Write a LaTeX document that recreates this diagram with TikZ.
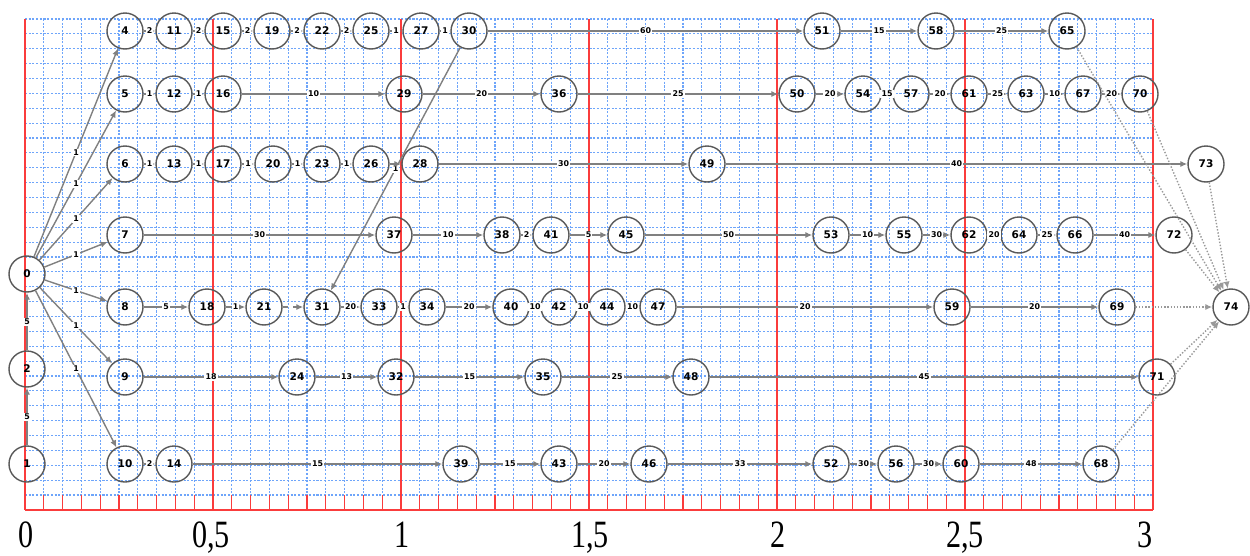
\documentclass[tikz,border=0pt]{standalone}
\usepackage{fontspec}
\setmainfont{Liberation Serif}
\newfontfamily\evfont{DejaVu Sans}
\usetikzlibrary{arrows.meta}

\definecolor{gridblue}{RGB}{110,165,250}
\definecolor{axisred}{RGB}{250,60,60}

\begin{document}
\begin{tikzpicture}[
    x=0.02cm, y=-0.02cm,
    ev/.style={circle, draw=black!65, line width=0.8pt, minimum size=0.72cm, inner sep=0pt,
               font=\evfont\bfseries\fontsize{6}{6}\selectfont},
    lbl/.style={font=\evfont\bfseries\fontsize{4.5}{5}\selectfont, text=black, inner sep=0.6pt, fill=white},
    every edge/.style={draw, black!50, line width=0.8pt, -{Latex[length=4pt,width=3.5pt]}},
    dum/.style={densely dotted, black!40},
    gridline/.style={gridblue, line width=0.6pt, dash pattern=on 1.2pt off 0.9pt},
    axisline/.style={axisred, line width=1pt},
    ticklbl/.style={anchor=base, inner sep=0pt, font=\fontsize{22}{24}\selectfont},
]
  \useasboundingbox (0,0) rectangle (1250,555);

  % grid and time axis
  \foreach \i in {0,...,60} \draw[gridline] ({25+\i*18.8},19) -- ({25+\i*18.8},495);
  \foreach \j in {0,...,32} \draw[gridline] (25,{19+\j*14.875}) -- (1153,{19+\j*14.875});
  \foreach \i in {0,...,60} \draw[axisred, line width=0.7pt] ({25+\i*18.8},495) -- ({25+\i*18.8},510);
  \draw[axisline] (25,510) -- (1153,510);
  \foreach \k in {0,...,6} \draw[axisline] ({25+\k*188},19) -- ({25+\k*188},510);
  \foreach \k/\x/\t in {0/26/0, 1/211/{0,5}, 2/402/1, 3/590/{1,5}, 4/778/2, 5/965/{2,5}, 6/1145/3}
    \node[ticklbl] (t\k) at (\x,547) {\scalebox{0.78}[1]{\t}};

  % events
  \node[ev] (n0) at (27,274) {0};
  \node[ev] (n2) at (27,369) {2};
  \node[ev] (n1) at (27,464) {1};
  \foreach \n/\x in {4/125, 11/174, 15/223, 19/272, 22/322, 25/371, 27/421, 30/469, 51/822, 58/936, 65/1067}
    \node[ev] (n\n) at (\x,31) {\n};
  \foreach \n/\x in {5/125, 12/174, 16/223, 29/404, 36/559, 50/797, 54/863, 57/911, 61/969, 63/1026, 67/1083, 70/1140}
    \node[ev] (n\n) at (\x,94) {\n};
  \foreach \n/\x in {6/125, 13/174, 17/223, 20/273, 23/322, 26/371, 28/420, 49/707, 73/1206}
    \node[ev] (n\n) at (\x,164) {\n};
  \foreach \n/\x in {7/125, 37/394, 38/502, 41/551, 45/626, 53/831, 55/904, 62/969, 64/1019, 66/1075, 72/1174}
    \node[ev] (n\n) at (\x,235) {\n};
  \foreach \n/\x in {8/125, 18/207, 21/264, 31/322, 33/379, 34/427, 40/511, 42/559, 44/607, 47/658, 59/952, 69/1117, 74/1231}
    \node[ev] (n\n) at (\x,307) {\n};
  \foreach \n/\x in {9/125, 24/297, 32/396, 35/543, 48/691, 71/1157}
    \node[ev] (n\n) at (\x,377) {\n};
  \foreach \n/\x in {10/125, 14/174, 39/461, 43/559, 46/649, 52/831, 56/896, 60/961, 68/1101}
    \node[ev] (n\n) at (\x,464) {\n};

  % works
  \path (n1) edge node[lbl] {5} (n2);
  \path (n2) edge node[lbl] {5} (n0);
  \foreach \b in {4,...,10} \path (n0) edge node[lbl] {1} (n\b);
  \foreach \a/\b/\w in {4/11/2, 11/15/2, 15/19/2, 19/22/2, 22/25/2, 25/27/1, 27/30/1, 30/51/60, 51/58/15, 58/65/25,
                        5/12/1, 12/16/1, 16/29/10, 29/36/20, 36/50/25, 50/54/20, 54/57/15, 57/61/20, 61/63/25, 63/67/10, 67/70/20,
                        6/13/1, 13/17/1, 17/20/1, 20/23/1, 23/26/1, 28/49/30, 49/73/40, 30/31/1,
                        7/37/30, 37/38/10, 38/41/2, 41/45/5, 45/53/50, 53/55/10, 55/62/30, 62/64/20, 64/66/25, 66/72/40,
                        8/18/5, 18/21/1, 31/33/20, 33/34/1, 34/40/20, 40/42/10, 42/44/10, 44/47/10, 47/59/20, 59/69/20,
                        9/24/18, 24/32/13, 32/35/15, 35/48/25, 48/71/45,
                        10/14/2, 14/39/15, 39/43/15, 43/46/20, 46/52/33, 52/56/30, 56/60/30, 60/68/48}
    \path (n\a) edge node[lbl] {\w} (n\b);
  \path (n26) edge (n28);
  \path (n21) edge[dashed] (n31);
  \foreach \a in {65,70,73,72,69,71,68} \path (n\a) edge[dum] (n74);
\end{tikzpicture}
\end{document}
